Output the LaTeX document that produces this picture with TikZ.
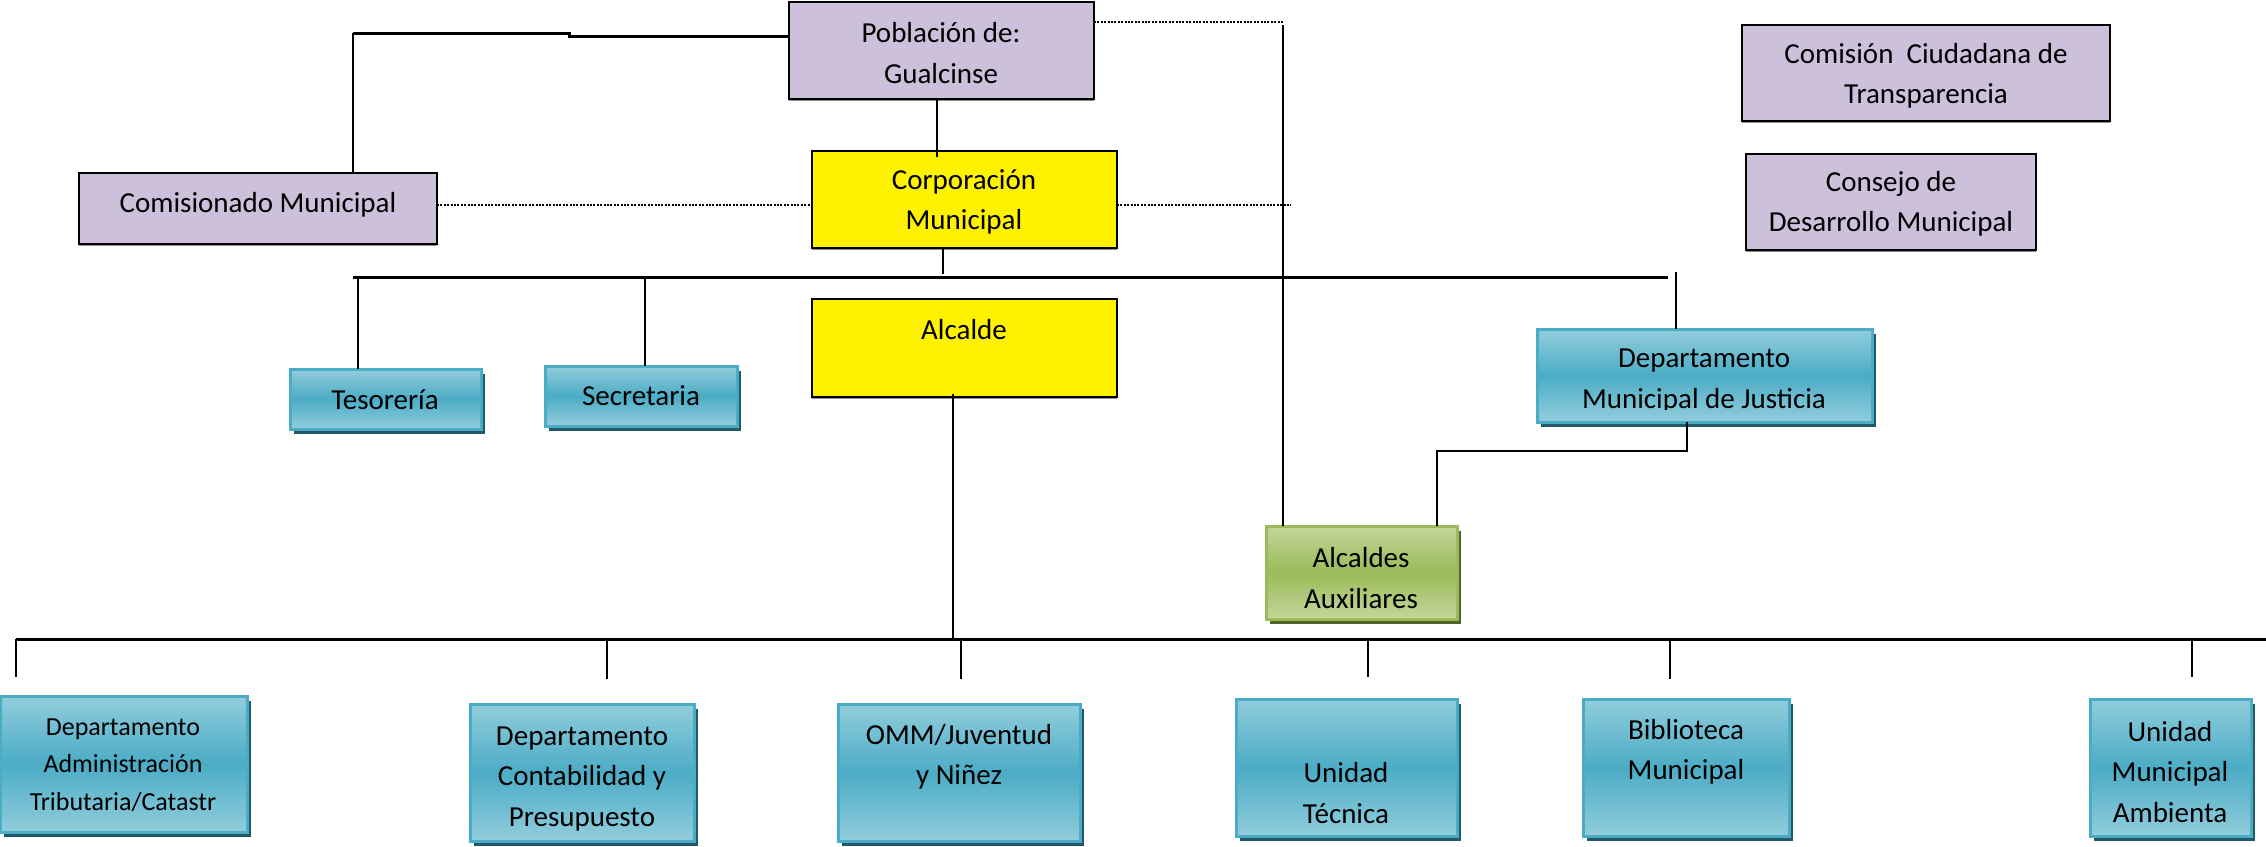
\documentclass[tikz,border=0pt]{standalone}
\usepackage{fontspec}
\setmainfont{Carlito}
\definecolor{lav}{RGB}{204,192,218}
\definecolor{bluemid}{RGB}{75,172,198}
\definecolor{bluelight}{RGB}{146,205,220}
\definecolor{blueshadow}{RGB}{33,89,104}
\definecolor{greenmid}{RGB}{155,187,89}
\definecolor{greenlight}{RGB}{195,214,155}
\definecolor{greenshadow}{RGB}{79,98,40}
\tikzset{
  base/.style={anchor=north west, inner sep=0pt, outer sep=0pt},
  lavbox/.style={base, draw=black, line width=2.5pt, fill=lav, drop shadow={shadow xshift=0pt, shadow yshift=-2pt, fill=black!45, opacity=1}},
  yelbox/.style={base, draw=black, line width=2.5pt, fill=yellow, drop shadow={shadow xshift=0pt, shadow yshift=-2pt, fill=black!45, opacity=1}},
  bluebox/.style={base, draw=bluemid, line width=3pt, top color=bluelight, bottom color=bluelight, middle color=bluemid, drop shadow={shadow xshift=4pt, shadow yshift=-5pt, fill=blueshadow, opacity=1}},
  greenbox/.style={base, draw=greenmid, line width=3pt, top color=greenlight, bottom color=greenlight, middle color=greenmid, drop shadow={shadow xshift=4pt, shadow yshift=-5pt, fill=greenshadow, opacity=1}},
  txt/.style={align=center, inner sep=0pt, font=\fontsize{29}{40.5}\selectfont},
  smalltxt/.style={align=center, inner sep=0pt, font=\fontsize{26}{37.5}\selectfont},
  conn/.style={line width=2pt, black},
  bar/.style={line width=3pt, black},
  dots/.style={line width=2.6pt, dash pattern=on 2pt off 1.4pt, black}
}
\usetikzlibrary{shadows}
\begin{document}
\begin{tikzpicture}[x=1pt, y=-1pt]
\useasboundingbox (0,0) rectangle (2266,846);
\fill[white] (0,0) rectangle (2266,846);

% ---- boxes ----
\node[lavbox, minimum width=305, minimum height=97] (pob) at (789,2) {};
\node[txt] (pobt) at (941,53) {Población de:\\Gualcinse};

\node[lavbox, minimum width=358, minimum height=71] (comi) at (79,173) {};
\node[txt] (comit) at (258,205) {Comisionado Municipal};

\node[yelbox, minimum width=305, minimum height=97] (corp) at (812,151) {};
\node[txt] (corpt) at (964,202) {Corporación\\Municipal};

\node[lavbox, minimum width=368, minimum height=96] (cct) at (1742,25) {};
\node[txt] (cctt) at (1926,76) {Comisión\ \ Ciudadana de\\Transparencia};

\node[lavbox, minimum width=290, minimum height=96] (cdm) at (1746,154) {};
\node[txt] (cdmt) at (1891,204) {Consejo de\\Desarrollo Municipal};

\node[bluebox, minimum width=191, minimum height=60] (tes) at (290,369) {};
\node[txt] (test) at (385,400) {Tesorería};

\node[bluebox, minimum width=192, minimum height=60] (sec) at (545,366) {};
\node[txt] (sect) at (641,396) {Secretaria};

\node[yelbox, minimum width=305, minimum height=98] (alc) at (812,299) {};
\node[txt] (alct) at (964,330) {Alcalde};

\node[bluebox, minimum width=335, minimum height=93] (dmj) at (1537,329) {};
\begin{scope}
\clip (1537,329) rectangle (1872,409);
\node[txt] (dmjt) at (1704,381) {Departamento\\Municipal de Justicia};
\end{scope}

\node[greenbox, minimum width=191, minimum height=93] (aux) at (1266,526) {};
\node[txt] (auxt) at (1361,578) {Alcaldes\\Auxiliares};

\node[bluebox, minimum width=247, minimum height=136] (dat) at (0,696) {};
\node[smalltxt] (datt) at (123,765) {Departamento\\Administración\\Tributaria/Catastr};

\node[bluebox, minimum width=224, minimum height=137] (dcp) at (470,704) {};
\node[txt] (dcpt) at (582,779) {Departamento\\Contabilidad y\\Presupuesto};

\node[bluebox, minimum width=242, minimum height=137] (omm) at (838,704) {};
\node[txt] (ommt) at (959,757) {OMM/Juventud\\y Niñez};

\node[bluebox, minimum width=221, minimum height=137] (ut) at (1236,699) {};
\node[txt] (utt) at (1346,793) {Unidad\\Técnica};

\node[bluebox, minimum width=206, minimum height=137] (bib) at (1583,699) {};
\node[txt] (bibt) at (1686,752) {Biblioteca\\Municipal};

\node[bluebox, minimum width=161, minimum height=137] (uma) at (2090,699) {};
\node[txt] (umat) at (2170,772) {Unidad\\Municipal\\Ambienta};

% ---- helper coordinates ----
\coordinate (p1) at (569,36);
\coordinate (p2) at (569,33);
\coordinate (p3) at (353,33);
\coordinate (vtop) at (1283,22);
\coordinate (bl) at (353,277);
\coordinate (br) at (1668,277);
\coordinate (dmjtop) at (1676,272);
\coordinate (jb) at (1687,451);
\coordinate (jl) at (1437,451);
\coordinate (cdot) at (1291,205);
\coordinate (ll) at (16,639);
\coordinate (lr) at (2266,639);
\coordinate (t1) at (16,677);
\coordinate (t2) at (607,679);
\coordinate (t3) at (961,679);
\coordinate (t4) at (1368,677);
\coordinate (t5) at (1670,679);
\coordinate (t6) at (2192,677);

% ---- connectors ----
\draw[bar] ([yshift=14.5pt]pob.west) -- (p1) -- (p2) -- (p3);
\draw[conn] (p3) -- (p3 |- comi.north);
\draw[conn] ([xshift=-4.5pt]pob.south) -- ([xshift=-27.5pt, yshift=-6pt]corp.north);
\draw[dots] (comi.east |- 0,205) -- (corp.west |- 0,205);
\draw[dots] ([yshift=28.5pt]pob.east) -- (vtop);
\draw[conn] ([yshift=-3pt]vtop) -- (vtop |- aux.north);
\draw[dots] (corp.east |- 0,205) -- (cdot);
\draw[conn] ([xshift=-21.5pt]corp.south) -- ([xshift=-21.5pt, yshift=-26pt]corp.south);
\draw[bar] (bl) -- (br);
\draw[conn] (358,277) -- (358,0 |- tes.north);
\draw[conn] (645,277) -- (645,0 |- sec.north);
\draw[conn] (dmjtop) -- (dmjtop |- dmj.north);
\draw[conn] (953,394) -- (953,639);
\draw[bar] (ll) -- (lr);
\draw[conn] (ll) -- (t1);
\draw[conn] (t2 |- ll) -- (t2);
\draw[conn] (t3 |- ll) -- (t3);
\draw[conn] (t4 |- ll) -- (t4);
\draw[conn] (t5 |- ll) -- (t5);
\draw[conn] (t6 |- ll) -- (t6);
\draw[conn] (jb |- dmj.south) -- (jb) -- (jl) -- (jl |- aux.north);
\end{tikzpicture}
\end{document}
